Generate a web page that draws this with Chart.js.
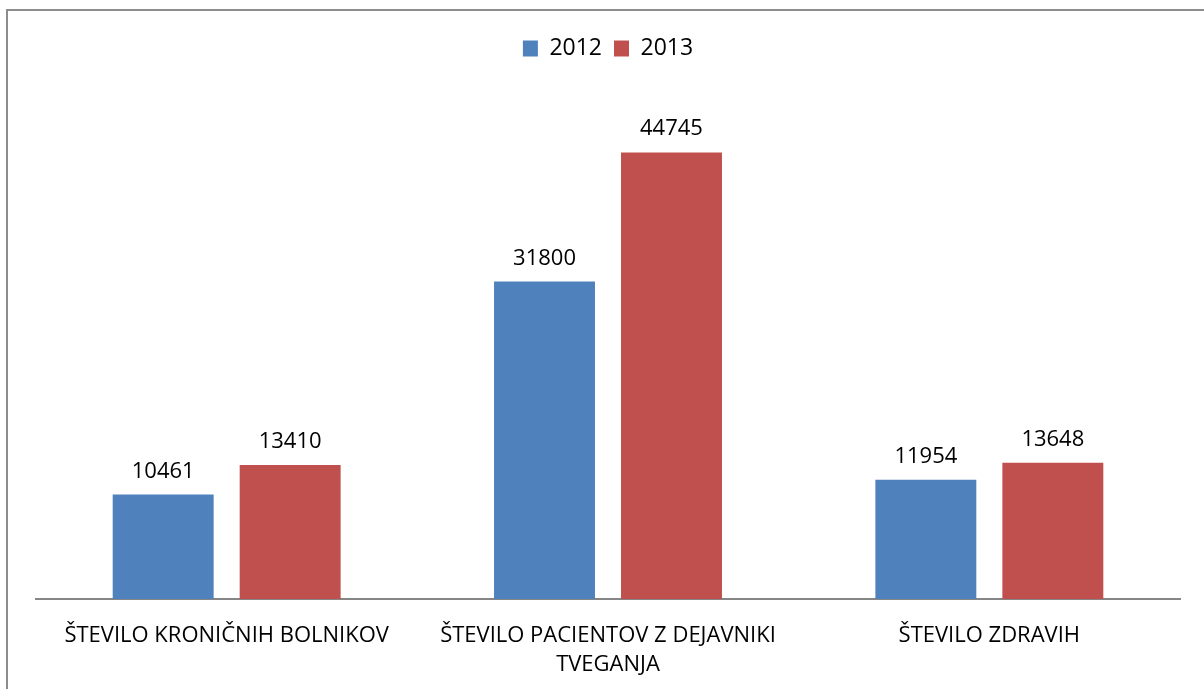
<!DOCTYPE html>
<html>
<head>
<meta charset="utf-8">
<script src="https://cdn.jsdelivr.net/npm/chart.js@4.4.1/dist/chart.umd.min.js"></script>
<style>
    body { margin: 0; background: #fff; }
    .okvir {
        position: absolute; left: 6px; top: 9px;
        width: 1220px; height: 700px;
        border: 2px solid #8c8c8c;
    }
    .platno { position: absolute; left: 0; top: 0; width: 1204px; height: 689px; }
</style>
</head>
<body>
<div class="okvir"></div>
<div class="platno"><canvas id="graf" width="1204" height="689"></canvas></div>
<script>
const kategorije = [
    "ŠTEVILO KRONIČNIH BOLNIKOV",
    ["ŠTEVILO PACIENTOV Z DEJAVNIKI", "TVEGANJA"],
    "ŠTEVILO ZDRAVIH"
];
const leta = ["2012", "2013"];
const vrednosti2012 = [10461, 31800, 11954];
const vrednosti2013 = [13410, 44745, 13648];
const barve = ["#4F81BD", "#C0504D"];

const pisava = "'Open Sans', 'DejaVu Sans', sans-serif";

// izpis vrednosti nad stolpci
const oznakeVrednosti = {
    id: 'oznakeVrednosti',
    afterDatasetsDraw(chart) {
        const ctx = chart.ctx;
        ctx.save();
        ctx.font = "22px " + pisava;
        ctx.fillStyle = "#000";
        ctx.textAlign = "center";
        ctx.textBaseline = "alphabetic";
        chart.data.datasets.forEach((ds, i) => {
            chart.getDatasetMeta(i).data.forEach((bar, j) => {
                ctx.fillText(ds.data[j], bar.x, bar.y - 17);
            });
        });
        ctx.restore();
    }
};

// malo več prostora pod legendo
const razmikLegende = {
    id: 'razmikLegende',
    beforeInit(chart) {
        const fit = chart.legend.fit;
        chart.legend.fit = function() {
            fit.bind(chart.legend)();
            this.height += 30;
        };
    }
};

let ctx = document.getElementById('graf').getContext('2d');
new Chart(ctx, {
    type: 'bar',
    data: {
        labels: kategorije,
        datasets: [
            { label: leta[0], data: vrednosti2012, backgroundColor: barve[0] },
            { label: leta[1], data: vrednosti2013, backgroundColor: barve[1] }
        ]
    },
    options: {
        responsive: false,
        animation: false,
        layout: { padding: { top: 25, left: 36, right: 24, bottom: -4 } },
        datasets: { bar: { categoryPercentage: 0.666, barPercentage: 0.795 } },
        plugins: {
            legend: {
                labels: {
                    boxWidth: 15, boxHeight: 16, padding: 12,
                    color: "#000",
                    font: { family: pisava, size: 23 }
                }
            },
            tooltip: { enabled: false }
        },
        scales: {
            x: {
                grid: { display: false },
                border: { display: true, color: "#868686", width: 2 },
                ticks: {
                    color: "#000",
                    padding: 14,
                    maxRotation: 0,
                    autoSkip: false,
                    font: { family: pisava, size: 22, lineHeight: 1.32 }
                }
            },
            y: { display: false, min: 0, max: 50000 }
        }
    },
    plugins: [oznakeVrednosti, razmikLegende]
});
</script>
</body>
</html>
